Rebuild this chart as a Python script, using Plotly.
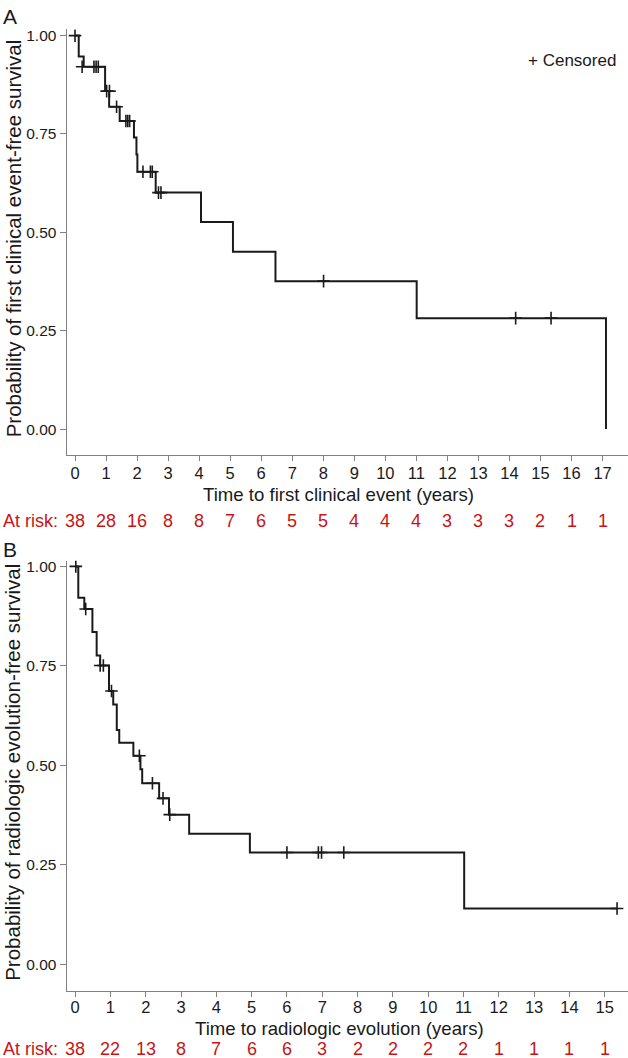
import plotly.graph_objects as go

# ---------------- data ----------------
# Panel A: time to first clinical event
step_time_A = [0, 0.12, 0.28, 0.97, 1.10, 1.44, 1.90, 1.98, 2.01, 2.60, 4.06, 5.09, 6.46, 11.01, 17.11]
step_surv_A = [1.0, 0.947, 0.921, 0.859, 0.819, 0.783, 0.741, 0.698, 0.654, 0.601, 0.526, 0.451, 0.376, 0.282, 0.0]
cens_time_A = [0.0, 0.23, 0.61, 0.68, 0.75, 1.02, 1.11, 1.34, 1.64, 1.70, 1.76, 2.19, 2.43, 2.49, 2.69, 2.77, 8.01, 14.2, 15.34]
cens_surv_A = [1.0, 0.921, 0.921, 0.921, 0.921, 0.859, 0.859, 0.819, 0.783, 0.783, 0.783, 0.654, 0.654, 0.654, 0.601, 0.601, 0.376, 0.282, 0.282]
risk_time_A = list(range(0, 18))
risk_n_A = [38, 28, 16, 8, 8, 7, 6, 5, 5, 4, 4, 4, 3, 3, 3, 2, 1, 1]

# Panel B: time to radiologic evolution
step_time_B = [0, 0.09, 0.26, 0.49, 0.61, 0.71, 0.96, 1.08, 1.18, 1.25, 1.65, 1.85, 1.90, 2.38, 2.66, 3.23, 4.95, 11.02, 15.35]
step_surv_B = [1.0, 0.921, 0.893, 0.835, 0.776, 0.751, 0.687, 0.653, 0.589, 0.557, 0.524, 0.490, 0.455, 0.417, 0.376, 0.328, 0.281, 0.140, 0.140]
cens_time_B = [0.02, 0.30, 0.71, 0.80, 1.03, 1.82, 2.19, 2.49, 2.68, 6.0, 6.89, 6.98, 7.61, 15.35]
cens_surv_B = [1.0, 0.893, 0.751, 0.751, 0.687, 0.524, 0.455, 0.417, 0.376, 0.281, 0.281, 0.281, 0.281, 0.140]
risk_time_B = list(range(0, 16))
risk_n_B = [38, 22, 13, 8, 7, 6, 6, 3, 2, 2, 2, 2, 1, 1, 1, 1]

y_ticks = [0, 0.25, 0.5, 0.75, 1.0]
y_ticktext = ["0.00", "0.25", "0.50", "0.75", "1.00"]

# ---------------- figure ----------------
W, H = 628, 1058
FONT = "Liberation Sans, Arial, sans-serif"
TXT = "#1a1a1a"
LINE = "#1a1a1a"
RED = "#c81414"
AXC = "#808080"

def py(px):  # pixel row -> paper y
    return 1 - px / H

fig = go.Figure()

fig.add_trace(go.Scatter(x=step_time_A, y=step_surv_A, mode="lines", line=dict(shape="hv", color=LINE, width=2),
                         xaxis="x", yaxis="y", showlegend=False, hoverinfo="skip"))
fig.add_trace(go.Scatter(x=cens_time_A, y=cens_surv_A, mode="markers",
                         marker=dict(symbol="cross-thin", size=9, line=dict(color=LINE, width=1.6)),
                         xaxis="x", yaxis="y", showlegend=False, hoverinfo="skip"))
fig.add_trace(go.Scatter(x=step_time_B, y=step_surv_B, mode="lines", line=dict(shape="hv", color=LINE, width=2),
                         xaxis="x2", yaxis="y2", showlegend=False, hoverinfo="skip"))
fig.add_trace(go.Scatter(x=cens_time_B, y=cens_surv_B, mode="markers",
                         marker=dict(symbol="cross-thin", size=9, line=dict(color=LINE, width=1.6)),
                         xaxis="x2", yaxis="y2", showlegend=False, hoverinfo="skip"))

xdom = [66.5 / W, 1.0]
xaxis_common = dict(showline=True, linecolor=AXC, linewidth=1, ticks="outside", ticklen=5, tickcolor=AXC,
                    showgrid=False, zeroline=False, tickfont=dict(family=FONT, size=16.5, color=TXT))
yaxis_common = dict(showline=True, linecolor=AXC, linewidth=1, ticks="outside", ticklen=6, tickcolor=AXC,
                    showgrid=False, zeroline=False, tickfont=dict(family=FONT, size=15.5, color=TXT))

fig.update_layout(
    width=W, height=H, margin=dict(l=0, r=0, t=0, b=0),
    paper_bgcolor="white", plot_bgcolor="white",
    font=dict(family=FONT, color=TXT),
    xaxis=dict(domain=xdom, range=[-0.274, 17.82], tick0=0, dtick=1, anchor="y", ticklabelstandoff=-2,
               **xaxis_common),
    yaxis=dict(domain=[py(453), py(26.5)], range=[-0.0651, 1.0157], tickvals=y_ticks, ticktext=y_ticktext,
               anchor="x", **yaxis_common),
    xaxis2=dict(domain=xdom, range=[-0.244, 15.66], tick0=0, dtick=1, anchor="y2", ticklabelstandoff=-4,
                **xaxis_common),
    yaxis2=dict(domain=[py(991.2), py(559.3)], range=[-0.0682, 1.0143], tickvals=y_ticks, ticktext=y_ticktext,
                anchor="x2", **yaxis_common),
)

ann = []
# panel letters
ann.append(dict(text="A", x=1 / W, y=py(14), xref="paper", yref="paper", xanchor="left", yanchor="middle",
                showarrow=False, font=dict(family=FONT, size=21, color=TXT)))
ann.append(dict(text="B", x=1 / W, y=py(548), xref="paper", yref="paper", xanchor="left", yanchor="middle",
                showarrow=False, font=dict(family=FONT, size=21, color=TXT)))
# legend text
ann.append(dict(text="+ Censored", x=618 / W, y=py(58), xref="paper", yref="paper", xanchor="right", yanchor="middle",
                showarrow=False, font=dict(family=FONT, size=17, color=TXT)))
# y-axis titles
ann.append(dict(text="Probability of first clinical event-free survival", x=13 / W, y=py(236), xref="paper", yref="paper",
                xanchor="center", yanchor="middle", textangle=-90, showarrow=False,
                font=dict(family=FONT, size=20.5, color=TXT)))
ann.append(dict(text="Probability of radiologic evolution-free survival", x=13 / W, y=py(772), xref="paper", yref="paper",
                xanchor="center", yanchor="middle", textangle=-90, showarrow=False,
                font=dict(family=FONT, size=20.5, color=TXT)))
# x-axis titles
ann.append(dict(text="Time to first clinical event (years)", x=8.5, xref="x", y=py(493), yref="paper",
                xanchor="center", yanchor="middle", showarrow=False, font=dict(family=FONT, size=18.6, color=TXT)))
ann.append(dict(text="Time to radiologic evolution (years)", x=7.5, xref="x2", y=py(1028), yref="paper",
                xanchor="center", yanchor="middle", showarrow=False, font=dict(family=FONT, size=18.6, color=TXT)))
# at-risk rows
for ypx in (519, 1049):
    ann.append(dict(text="At risk:", x=1 / W, y=py(ypx), xref="paper", yref="paper", xanchor="left", yanchor="middle",
                    showarrow=False, font=dict(family=FONT, size=18, color=RED)))
for t, n in zip(risk_time_A, risk_n_A):
    ann.append(dict(text=str(n), x=t, xref="x", y=py(519), yref="paper", xanchor="center", yanchor="middle",
                    showarrow=False, font=dict(family=FONT, size=18, color=RED)))
for t, n in zip(risk_time_B, risk_n_B):
    ann.append(dict(text=str(n), x=t, xref="x2", y=py(1049), yref="paper", xanchor="center", yanchor="middle",
                    showarrow=False, font=dict(family=FONT, size=18, color=RED)))

fig.update_layout(annotations=ann)
fig.write_html("out.html", config={"displayModeBar": False},
               post_script="document.body.style.margin='0';document.body.style.overflow='hidden';")
